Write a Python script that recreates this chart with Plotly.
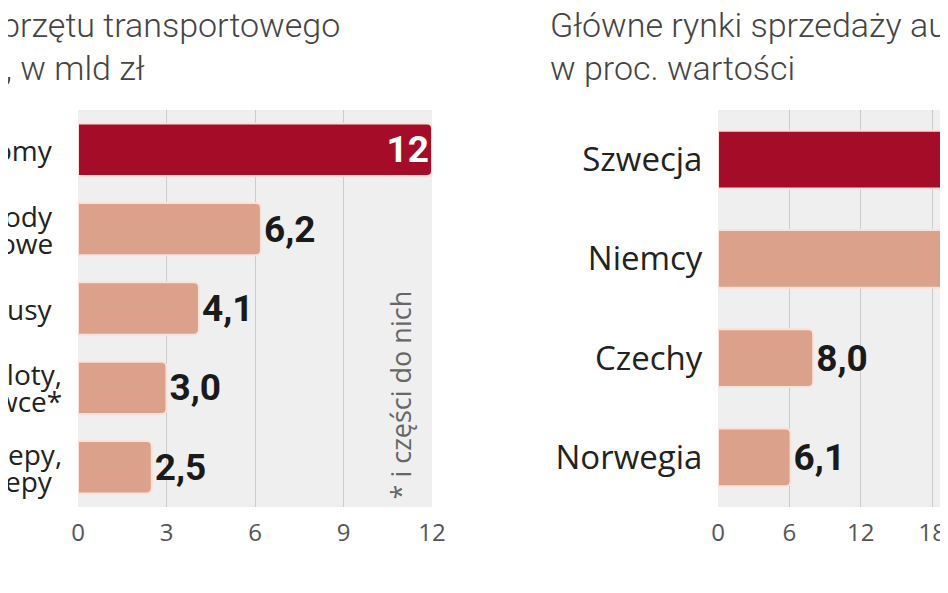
import plotly.graph_objects as go

# Left panel: export of transport equipment, bn zł (labels cut by the image edge)
left_labels = ["omy", "ody<br>owe", "usy", "oloty,<br>wce*", "epy,<br>epy"]
left_values = [12, 6.2, 4.1, 3.0, 2.5]
left_text = ["12", "6,2", "4,1", "3,0", "2,5"]
left_ticks = [0, 3, 6, 9, 12]

# Right panel: main sales markets, % of value (top two bars run past the image edge)
right_labels = ["Szwecja", "Niemcy", "Czechy", "Norwegia"]
right_values = [26.0, 22.0, 8.0, 6.1]
right_text = ["", "", "8,0", "6,1"]
right_ticks = [0, 6, 12, 18, 24]

RED = "#A50C27"
SALMON = "#DCA18B"
EDGE = "#F9E2DA"

W, H = 948, 593
OX, OY = 8, 8  # page offset of the figure inside the browser window


def px(xs):
    return (xs - OX) / W


def py(ys):
    return 1 - (ys - OY) / H


fig = go.Figure()

left_colors = [RED] + [SALMON] * (len(left_values) - 1)
left_tcolors = ["white"] + ["#1a1a1a"] * (len(left_values) - 1)
left_pos = ["inside"] + ["outside"] * (len(left_values) - 1)

valfont_family = "Liberation Sans Narrow, Roboto, sans-serif"

fig.add_trace(go.Bar(
    x=left_values, y=left_labels, orientation="h",
    marker=dict(color=left_colors, line=dict(color=EDGE, width=2), cornerradius=5),
    width=0.66,
    text=left_text, textposition=left_pos, insidetextanchor="end", textangle=0,
    constraintext="none",
    textfont=dict(family=valfont_family, size=37, weight=700, color=left_tcolors),
    cliponaxis=False,
    xaxis="x", yaxis="y", hoverinfo="skip",
))

right_colors = [RED] + [SALMON] * (len(right_values) - 1)
fig.add_trace(go.Bar(
    x=right_values, y=right_labels, orientation="h",
    marker=dict(color=right_colors, line=dict(color=EDGE, width=2), cornerradius=5),
    width=0.58,
    text=right_text, textposition="outside", textangle=0, constraintext="none",
    textfont=dict(family=valfont_family, size=37, weight=700, color="#1a1a1a"),
    xaxis="x2", yaxis="y2", hoverinfo="skip",
))

ydom = [py(507), py(110)]
cat_font = "Open Sans, Noto Sans, sans-serif"

fig.update_layout(
    width=W, height=H,
    margin=dict(l=0, r=0, t=0, b=0, autoexpand=False),
    paper_bgcolor="white", plot_bgcolor="#EFEFEF",
    showlegend=False,
    xaxis=dict(domain=[px(78), px(432)], range=[0, 12], tickvals=left_ticks,
               ticks="outside", ticklen=4, tickcolor="rgba(0,0,0,0)", automargin=False,
               tickfont=dict(family=cat_font, size=24, color="#555"),
               showgrid=True, gridcolor="#CBCBCB", gridwidth=1, zeroline=False,
               showline=False, fixedrange=True),
    yaxis=dict(domain=ydom, autorange="reversed", type="category",
               showticklabels=False, automargin=False,
               showgrid=False, zeroline=False, fixedrange=True),
    xaxis2=dict(domain=[px(718), 1], range=[0, (956 - 718) / 11.9], tickvals=right_ticks,
                ticks="outside", ticklen=4, tickcolor="rgba(0,0,0,0)", automargin=False,
                tickfont=dict(family=cat_font, size=24, color="#555"),
                showgrid=True, gridcolor="#CBCBCB", gridwidth=1, zeroline=False,
                showline=False, fixedrange=True, anchor="y2"),
    yaxis2=dict(domain=ydom, autorange="reversed", type="category",
                ticks="outside", ticklen=8, tickcolor="rgba(0,0,0,0)",
                automargin=False,
                tickfont=dict(family=cat_font, size=33, color="#222"),
                showgrid=False, zeroline=False, fixedrange=True, anchor="x2"),
)

# Left category labels drawn as annotations for tighter line spacing
line_gap = 27
for lab in left_labels:
    lines = lab.split("<br>")
    n = len(lines)
    for i, ln in enumerate(lines):
        shift = ((n - 1) / 2 - i) * line_gap
        hang = 9 if ln.endswith((",", "*")) else 0
        fig.add_annotation(xref="paper", yref="y", x=px(55 + hang), y=lab,
                           text=ln, showarrow=False, xanchor="right", yanchor="middle",
                           yshift=shift,
                           font=dict(family=cat_font, size=28, color="#222"))

title_font = dict(family="Roboto, sans-serif", size=34, color="#444", weight=300)
annos = [
    dict(text="sprzętu transportowego", x=px(342), y=py(25), xanchor="right", yanchor="middle"),
    dict(text="r., w mld zł", x=px(147), y=py(68), xanchor="right", yanchor="middle"),
    dict(text="Główne rynki sprzedaży au", x=px(548), y=py(25), xanchor="left", yanchor="middle"),
    dict(text="w proc. wartości", x=px(548), y=py(68), xanchor="left", yanchor="middle"),
]
for a in annos:
    fig.add_annotation(xref="paper", yref="paper", showarrow=False, font=title_font, **a)

fig.add_annotation(xref="paper", yref="paper", showarrow=False,
                   text="* i części do nich", textangle=-90,
                   x=px(400), y=py(502), xanchor="center", yanchor="bottom",
                   font=dict(family="Open Sans, sans-serif", size=27, color="#666"))

fig.write_html("out.html")
